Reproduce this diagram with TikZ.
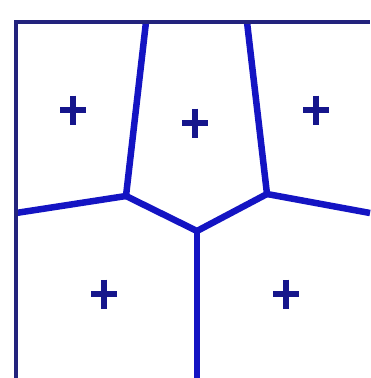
\documentclass[tikz,border=0pt]{standalone}
\definecolor{edgeblue}{RGB}{20,20,195}
\definecolor{framenavy}{RGB}{35,35,125}
\definecolor{plusnavy}{RGB}{22,22,140}
\tikzset{
  edge/.style={draw=edgeblue, line width=6.5pt, line cap=butt, line join=round},
  frameline/.style={draw=framenavy, line width=4pt},
  plusmark/.style={minimum width=26pt, minimum height=29pt, inner sep=0pt, draw=none,
    path picture={
      \draw[plusnavy, line width=5.5pt] (path picture bounding box.north) -- (path picture bounding box.south);
      \draw[plusnavy, line width=5.5pt] (path picture bounding box.west) -- (path picture bounding box.east);
    }}
}
\begin{document}
\begin{tikzpicture}[x=1pt, y=-1pt]
\fill[white] (0,0) rectangle (370,378);
\useasboundingbox (0,0) rectangle (370,378);
% frame corners
\coordinate (tl) at (16,22);
\coordinate (tr) at (370,22);
\coordinate (bl) at (16,378);
% Voronoi vertices
\coordinate (A) at (126,196);
\coordinate (B) at (267,194);
\coordinate (C) at (197,231);
% edge ends on the frame
\coordinate (Atop) at (146,22);
\coordinate (Btop) at (247,22);
\coordinate (Aleft) at (16,213);
\coordinate (Bright) at (370,213);
\coordinate (Cbot) at (197,378);
% edges
\draw[edge] (Atop) -- (A) -- (C) -- (B) -- (Btop);
\draw[edge] (Aleft) -- (A);
\draw[edge] (B) -- (Bright);
\draw[edge] (C) -- (Cbot);
% frame
\draw[frameline] (bl) -- (tl) -- (tr);
% sites
\node[plusmark] (s1) at (73,110) {};
\node[plusmark] (s2) at (195,123) {};
\node[plusmark] (s3) at (316,110) {};
\node[plusmark] (s4) at (104,294) {};
\node[plusmark] (s5) at (286,294) {};
\end{tikzpicture}
\end{document}
